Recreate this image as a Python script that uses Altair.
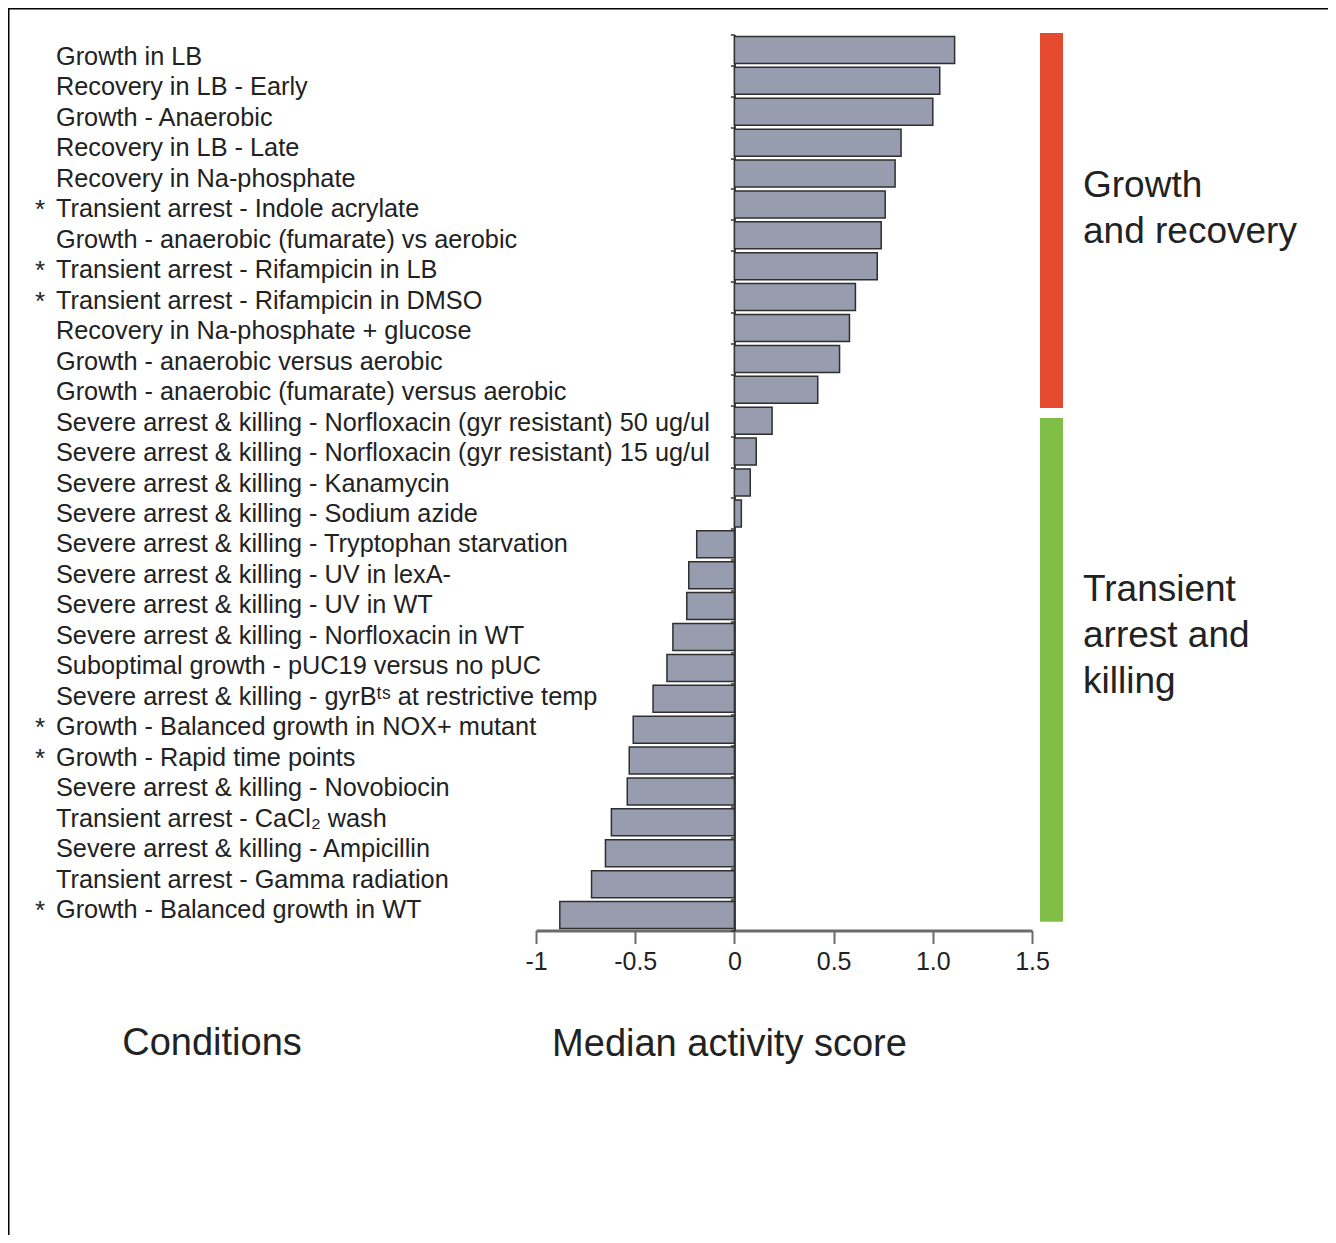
import altair as alt
import pandas as pd

# ---------------- data ----------------
conditions = [
    "Growth in LB",
    "Recovery in LB - Early",
    "Growth - Anaerobic",
    "Recovery in LB - Late",
    "Recovery in Na-phosphate",
    "Transient arrest - Indole acrylate",
    "Growth - anaerobic (fumarate) vs aerobic",
    "Transient arrest - Rifampicin in LB",
    "Transient arrest - Rifampicin in DMSO",
    "Recovery in Na-phosphate + glucose",
    "Growth - anaerobic versus aerobic",
    "Growth - anaerobic (fumarate) versus aerobic",
    "Severe arrest & killing - Norfloxacin (gyr resistant) 50 ug/ul",
    "Severe arrest & killing - Norfloxacin (gyr resistant) 15 ug/ul",
    "Severe arrest & killing - Kanamycin",
    "Severe arrest & killing - Sodium azide",
    "Severe arrest & killing - Tryptophan starvation",
    "Severe arrest & killing - UV in lexA-",
    "Severe arrest & killing - UV in WT",
    "Severe arrest & killing - Norfloxacin in WT",
    "Suboptimal growth - pUC19 versus no pUC",
    "Severe arrest & killing - gyrBᵗˢ at restrictive temp",
    "Growth - Balanced growth in NOX+ mutant",
    "Growth - Rapid time points",
    "Severe arrest & killing - Novobiocin",
    "Transient arrest - CaCl₂ wash",
    "Severe arrest & killing - Ampicillin",
    "Transient arrest - Gamma radiation",
    "Growth - Balanced growth in WT",
]
starred = [False, False, False, False, False, True, False, True, True, False,
           False, False, False, False, False, False, False, False, False, False,
           False, False, True, True, False, False, False, False, True]
scores = [1.11, 1.035, 1.0, 0.84, 0.81, 0.76, 0.74, 0.72, 0.61, 0.58,
          0.53, 0.42, 0.19, 0.11, 0.08, 0.035, -0.19, -0.23, -0.24, -0.31,
          -0.34, -0.41, -0.51, -0.53, -0.54, -0.62, -0.65, -0.72, -0.88]

group_names = ["Growth and recovery", "Transient arrest and killing"]
group_first = [0, 12]
group_last = [11, 28]
group_colors = ["#e5492f", "#80bf47"]

x_ticks = [-1, -0.5, 0, 0.5, 1, 1.5]
x_tick_labels = ["-1", "-0.5", "0", "0.5", "1.0", "1.5"]

# ---------------- layout ----------------
W, H = 496, 896
N = len(conditions)
FONT = "Liberation Sans"
TXT = "#222222"

df = pd.DataFrame({
    "idx": list(range(N)),
    "label": conditions,
    "star": ["*" if s else "" for s in starred],
    "score": scores,
})

# colored group bars (small insets so they mirror the reference)
top_inset = [0.55, 0.09]
bot_inset = [0.59, 0.22]
gdf = pd.DataFrame({
    "group": group_names,
    "y0": [f - t for f, t in zip(group_first, top_inset)],
    "y1": [l + b for l, b in zip(group_last, bot_inset)],
})

yscale = alt.Scale(domain=[-0.5, N - 0.5], reverse=True, nice=False, zero=False, padding=0)
xscale = alt.Scale(domain=[-1, 1.5], nice=False, zero=False, padding=0)
lscale = alt.Scale(domain=[0, N - 1], range=[30.5, 883.5], padding=0, nice=False, zero=False)

label_expr = " : ".join(
    f"datum.value == {v} ? '{t}'" for v, t in zip(x_ticks, x_tick_labels)
) + " : datum.label"

one = pd.DataFrame({"k": [0]})

frame = alt.Chart(one).mark_rect(filled=False, stroke="black", strokeWidth=1.5).encode(
    x=alt.value(-527.25), x2=alt.value(3000), y=alt.value(-25.75), y2=alt.value(3000)
)

bars = alt.Chart(df).mark_bar(
    orient="horizontal", size=27, fill="#979daf", stroke="#2f2f2f", strokeWidth=1.5
).encode(
    x=alt.X("score:Q", scale=xscale, axis=alt.Axis(
        values=x_ticks, labelExpr=label_expr, grid=False, labelFlush=False,
        domainColor="#6b6b6b", domainWidth=3, tickColor="#6b6b6b", tickWidth=2,
        tickSize=13, labelFont="Liberation Sans Narrow, Arial Narrow, Liberation Sans",
        labelFontSize=25, labelColor=TXT, labelPadding=6,
        title="Median activity score", titleFont=FONT, titleFontSize=38,
        titleFontWeight="normal", titleColor=TXT, titleX=193, titleY=125,
        titleAlign="center", titleBaseline="alphabetic",
    )),
    y=alt.Y("idx:Q", scale=yscale, axis=alt.Axis(
        values=[i - 0.5 for i in range(N + 1)], labels=False, grid=False,
        offset=-W * 1 / 2.5, domainColor="#333333", domainWidth=2,
        tickColor="#333333", tickSize=4, tickWidth=1.5, title=None,
    )),
)

labels = alt.Chart(df).mark_text(
    align="left", baseline="alphabetic", fontSize=25.3, font=FONT, color=TXT
).encode(
    x=alt.value(-480),
    y=alt.Y("idx:Q", scale=lscale, axis=None),
    text="label:N",
)

stars = alt.Chart(df).mark_text(
    align="left", baseline="alphabetic", fontSize=26, font=FONT, color=TXT, dy=1
).encode(
    x=alt.value(-501),
    y=alt.Y("idx:Q", scale=lscale, axis=None),
    text="star:N",
)

grp = alt.Chart(gdf).mark_rect().encode(
    x=alt.value(504), x2=alt.value(527),
    y=alt.Y("y0:Q", scale=yscale, axis=None), y2="y1:Q",
    color=alt.Color("group:N", scale=alt.Scale(domain=group_names, range=group_colors), legend=None),
)

gtext1 = alt.Chart(one).mark_text(
    align="left", baseline="alphabetic", fontSize=37, font=FONT, color=TXT,
    lineBreak="\n", lineHeight=46,
).encode(x=alt.value(547), y=alt.value(197 - 34.5), text=alt.value("Growth\nand recovery"))

gtext2 = alt.Chart(one).mark_text(
    align="left", baseline="alphabetic", fontSize=37, font=FONT, color=TXT,
    lineBreak="\n", lineHeight=46,
).encode(x=alt.value(547), y=alt.value(601 - 34.5), text=alt.value("Transient\narrest and\nkilling"))

cond_title = alt.Chart(one).mark_text(
    align="center", baseline="alphabetic", fontSize=38, font=FONT, color=TXT
).encode(x=alt.value(212 - 536), y=alt.value(1055 - 34.5), text=alt.value("Conditions"))

chart = alt.layer(
    frame, bars, labels, stars, grp, gtext1, gtext2, cond_title
).resolve_scale(y="independent").properties(
    width=W, height=H,
    autosize=alt.AutoSizeParams(type="none"),
    padding={"left": 528, "top": 26.5, "right": 296, "bottom": 304.5},
    background="white",
).configure_view(stroke=None)

chart.save("out.html", embed_options={"renderer": "svg", "actions": False})
